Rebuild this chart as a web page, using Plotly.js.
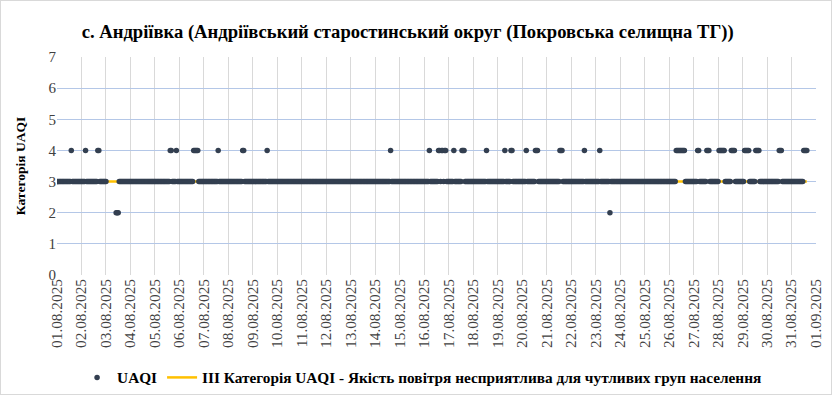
<!DOCTYPE html>
<html>
<head>
<meta charset="utf-8">
<script src="https://cdn.plot.ly/plotly-3.0.1.min.js"></script>
<style>
  html, body { margin: 0; padding: 0; background: #fff; }
  #wrap { position: relative; width: 832px; height: 395px; }
  #chart { width: 832px; height: 395px; }
  #frame { position: absolute; left: 0; top: 0; width: 830px; height: 393px; border: 1px solid #d9d9d9; pointer-events: none; }
</style>
</head>
<body>
<div id="wrap"><div id="chart"></div><div id="frame"></div></div>
<script>
// ---- Data (hourly UAQI category, August 2025) ----
const chartTitle = 'с. Андріївка (Андріївський старостинський округ (Покровська селищна ТГ))';
const seriesName = 'UAQI';
const thresholdName = 'III Категорія UAQI - Якість повітря несприятлива для чутливих груп населення';
const startDay = [2025, 7, 1];           // 01.08.2025 00:00
const lastHour = 735;                     // last hourly observation index
const baseCategory = 3;                   // category of all hours not listed below
const level4Hours = [14, 28, 40, 41, 111, 112, 117, 134, 135, 136, 137, 138, 158, 182, 183, 206,
  327, 365, 374, 375, 377, 378, 380, 381, 389, 397, 398, 399, 421, 439, 445, 446, 460, 469, 470, 471,
  493, 494, 495, 517, 532, 607, 608, 609, 610, 611, 612, 613, 614, 615, 628, 629, 637, 638, 639,
  649, 650, 651, 652, 653, 654, 661, 662, 663, 664, 674, 675, 676, 677, 678, 685, 686, 687, 688,
  708, 709, 710, 732, 733, 734, 735];
const level2Hours = [58, 59, 60, 542];
const missingHours = [49, 50, 51, 52, 53, 54, 55, 56, 57];
const thresholdValue = [3, 3];
const thresholdHours = [0, lastHour];
const yTickValues = [0, 1, 2, 3, 4, 5, 6, 7];

// ---- build traces ----
const t0 = Date.UTC(startDay[0], startDay[1], startDay[2]);
function hourToDate(h) {
  return new Date(t0 + h * 3600000).toISOString().slice(0, 16).replace('T', ' ');
}
const xs = [], ys = [];
for (let h = 0; h <= lastHour; h++) {
  if (missingHours.includes(h)) continue;
  let v = baseCategory;
  if (level4Hours.includes(h)) v = 4;
  else if (level2Hours.includes(h)) v = 2;
  xs.push(hourToDate(h));
  ys.push(v);
}

const serif = 'Liberation Serif';

const traces = [
  {
    x: thresholdHours.map(hourToDate), y: thresholdValue,
    name: thresholdName, type: 'scatter', mode: 'lines',
    line: { color: '#ffc000', width: 2.5 }, legendrank: 2, hoverinfo: 'skip'
  },
  {
    x: xs, y: ys, name: seriesName, type: 'scatter', mode: 'markers',
    marker: { color: '#333f50', size: 5.5 }, legendrank: 1
  }
];

const layout = {
  width: 832, height: 395,
  margin: { l: 57, r: 16, t: 57, b: 120, autoexpand: false },
  paper_bgcolor: '#ffffff', plot_bgcolor: '#ffffff',
  font: { family: serif, size: 13, color: '#404040' },
  title: {
    text: chartTitle, x: 0.49, xanchor: 'center', y: 0.92, yanchor: 'middle',
    font: { family: serif, size: 18.6, color: '#000000', weight: 'bold' }
  },
  showlegend: true,
  legend: {
    orientation: 'h', x: 0.481, xanchor: 'center', y: -0.47, yanchor: 'middle',
    font: { family: serif, size: 15.3, color: '#000000', weight: 'bold' },
    traceorder: 'normal', bgcolor: 'rgba(0,0,0,0)'
  },
  xaxis: {
    type: 'date', automargin: false,
    range: [hourToDate(0), hourToDate(744)],
    tick0: hourToDate(0), dtick: 86400000,
    tickformat: '%d.%m.%Y', tickangle: -90,
    tickfont: { family: serif, size: 15.3, color: '#404040' },
    showgrid: true, gridcolor: '#d9d9d9', gridwidth: 1,
    showline: false, zeroline: false, ticks: '', fixedrange: true
  },
  yaxis: {
    automargin: false,
    range: [0, 7], tickvals: yTickValues, ticktext: yTickValues.map(String),
    tickfont: { family: serif, size: 15, color: '#404040' },
    showgrid: true, gridcolor: '#b4c7e7', gridwidth: 1,
    zeroline: false, showline: false, ticks: '', ticklen: 0,
    title: { text: 'Категорія UAQI', standoff: 19,
      font: { family: serif, size: 13.5, color: '#000000', weight: 'bold' } },
    fixedrange: true
  }
};

Plotly.newPlot('chart', traces, layout, { displayModeBar: false, staticPlot: true });
</script>
</body>
</html>
